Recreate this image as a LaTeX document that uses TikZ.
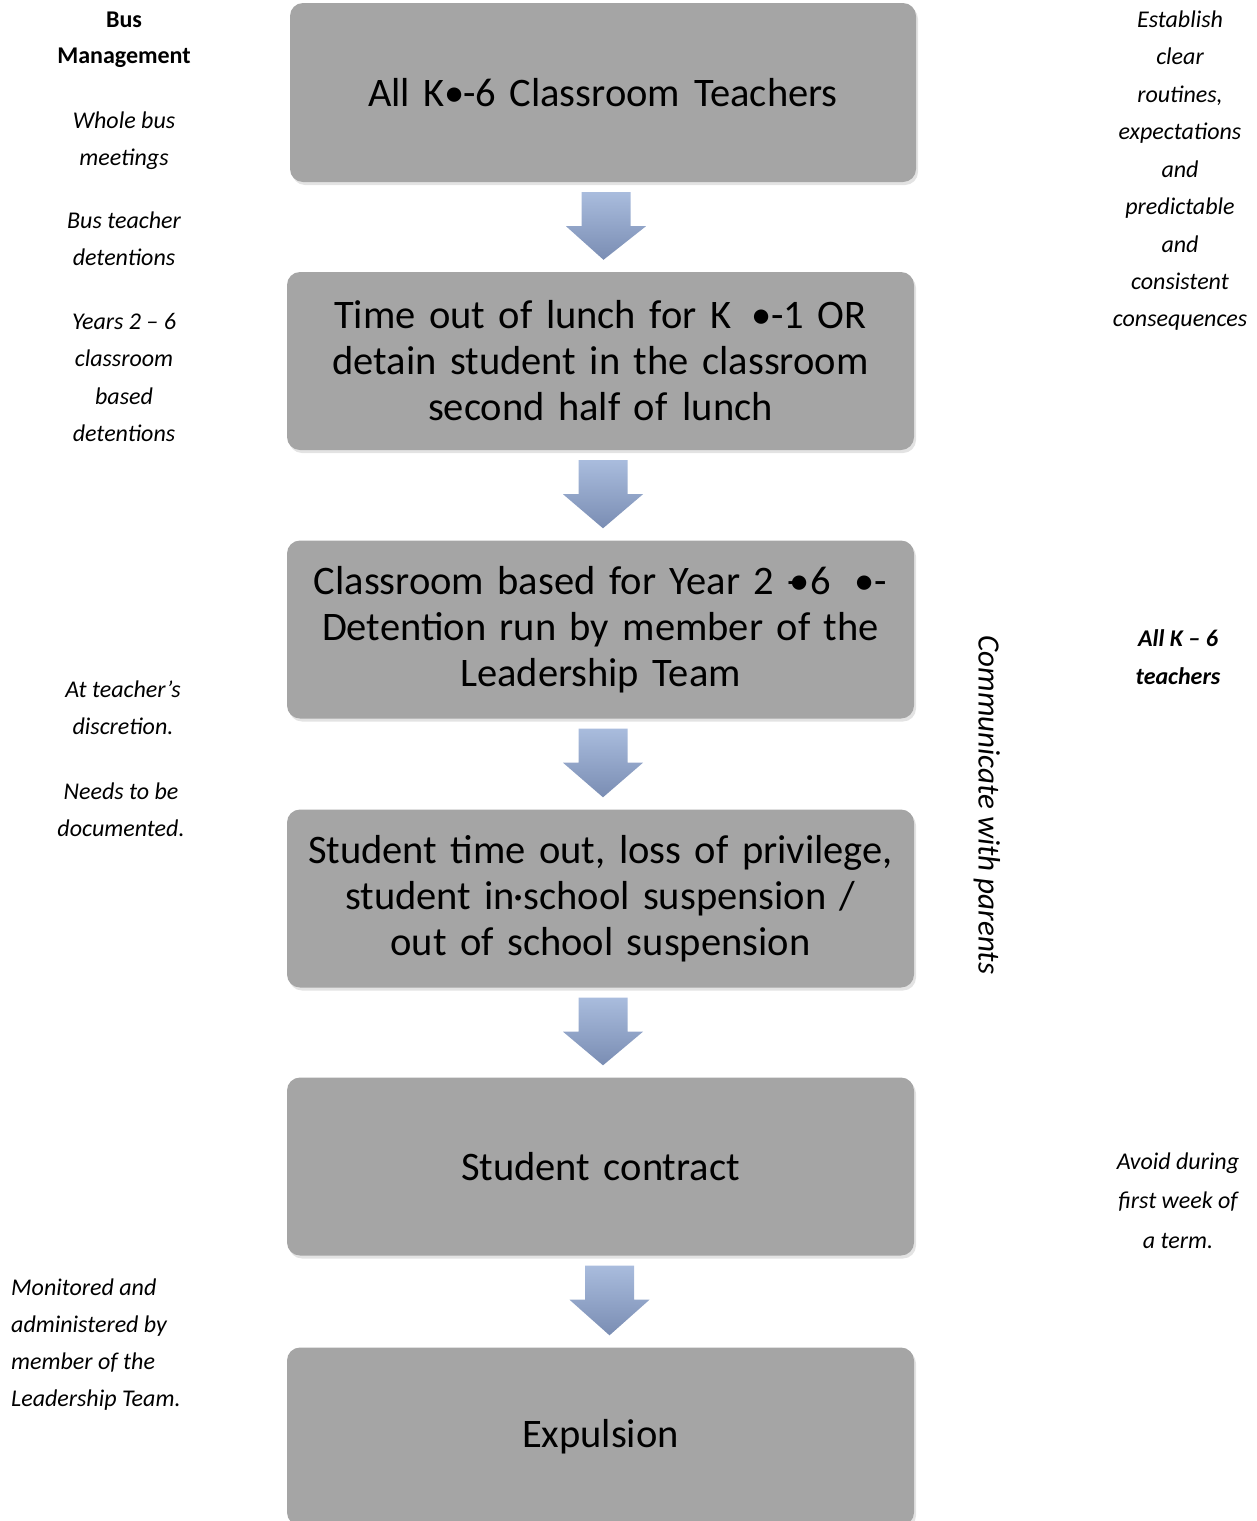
\documentclass[tikz,border=0pt]{standalone}
\usepackage{fontspec}
\setmainfont{Carlito}
\usetikzlibrary{calc,shadows}
\definecolor{boxgray}{HTML}{A5A5A5}
\definecolor{arrtop}{HTML}{A9BCDD}
\definecolor{arrbot}{HTML}{7A8DB3}
\newcommand{\boxtextfont}{\fontsize{40.5}{46}\selectfont}
\newcommand{\sidefont}{\fontsize{24}{37.5}\selectfont}
\tikzset{
  stagebox/.style={rectangle, rounded corners=13pt, fill=boxgray,
    minimum width=627pt, minimum height=178pt, inner sep=0pt,
    text width=610pt, align=center,
    font=\boxtextfont,
    drop shadow={opacity=0.22, shadow xshift=2pt, shadow yshift=-3pt}},
  sidetext/.style={inner sep=0pt, yshift=-5pt, anchor=mid, font=\sidefont\itshape},
  sidebold/.style={inner sep=0pt, yshift=-5pt, anchor=mid, font=\sidefont\bfseries},
  sidebolditalic/.style={inner sep=0pt, yshift=-5pt, anchor=mid, font=\sidefont\bfseries\itshape},
  sideleft/.style={inner sep=0pt, yshift=-5pt, anchor=mid west, font=\sidefont\itshape},
}
\newcommand{\blockarr}[3]{%
  \shade[top color=arrtop, bottom color=arrbot]
    ($(#1.south)+(#3-24.5,10)$) -- ($(#1.south)+(#3+24.5,10)$)
    -- ($(#1.south)+(#3+24.5,44)$) -- ($(#1.south)+(#3+40,44)$)
    -- ($(#2.north)+(#3+0.0,-12)$)
    -- ($(#1.south)+(#3-40,44)$) -- ($(#1.south)+(#3-24.5,44)$) -- cycle;}
\begin{document}
\begin{tikzpicture}[x=1pt,y=-1pt]
\useasboundingbox (0,0) rectangle (1257,1521);
\clip (0,0) rectangle (1257,1521);
% stage boxes
\node[stagebox, minimum width=626pt, minimum height=179pt] (b1) at (603,92.5) {\raisebox{-3pt}{All K\kern-0.02em•\kern-0.02em-6 Classroom\hspace{14pt}Teachers}};
\node[stagebox] (b2) at (600.5,361) {Time out of lunch for K\hspace{20pt}•-1 OR\\ detain student in the classroom\\ second half of\hspace{15pt}lunch};
\node[stagebox] (b3) at (600.5,629.5) {Classroom based for Year 2 -\kern-0.25em•6\hspace{24pt}•-\\ Detention run by member of the\\ Leadership Team};
\node[stagebox] (b4) at (600.5,898.5) {Student time out, loss of privilege,\\ student in\kern-0.05em·school suspension /\\ out of school suspension};
\node[stagebox] (b5) at (600.5,1166.5) {Student contract};
\node[stagebox] (b6) at (600.5,1436.5) {Expulsion};
% block arrows
\blockarr{b1}{b2}{3}
\blockarr{b2}{b3}{2.5}
\blockarr{b3}{b4}{2.5}
\blockarr{b4}{b5}{2.5}
\blockarr{b5}{b6}{9}
% vertical label
\node[rotate=-90, inner sep=0pt, font=\fontsize{31}{36}\selectfont\itshape] (comm) at (987,805) {Communicate with parents};
% left column
\node[sidebold] (l1a) at (124,20) {Bus};
\node[sidebold] (l1b) at (124,56) {Management};
\node[sidetext] (l2a) at (124,121) {Whole bus};
\node[sidetext] (l2b) at (124,158) {meetings};
\node[sidetext] (l3a) at (124,221) {Bus teacher};
\node[sidetext] (l3b) at (124,258) {detentions};
\node[sidetext] (l4a) at (124,322) {Years 2 – 6};
\node[sidetext] (l4b) at (124,359) {classroom};
\node[sidetext] (l4c) at (124,397) {based};
\node[sidetext] (l4d) at (124,434) {detentions};
\node[sidetext] (l5a) at (123,690) {At teacher’s};
\node[sidetext] (l5b) at (123,727) {discretion.};
\node[sidetext] (l6a) at (121,792) {Needs to be};
\node[sidetext] (l6b) at (121,829) {documented.};
\node[sideleft] (l7a) at (11,1288) {Monitored and};
\node[sideleft] (l7b) at (11,1325) {administered by};
\node[sideleft] (l7c) at (11,1362) {member of the};
\node[sideleft] (l7d) at (11,1399) {Leadership Team.};
% right column
\node[sidetext] (r1a) at (1180,20) {Establish};
\node[sidetext] (r1b) at (1180,57) {clear};
\node[sidetext] (r1c) at (1180,95) {routines,};
\node[sidetext] (r1d) at (1180,132) {expectations};
\node[sidetext] (r1e) at (1180,170) {and};
\node[sidetext] (r1f) at (1180,207) {predictable};
\node[sidetext] (r1g) at (1180,245) {and};
\node[sidetext] (r1h) at (1180,282) {consistent};
\node[sidetext] (r1i) at (1180,319) {consequences};
\node[sidebolditalic] (r2a) at (1178,639) {All K – 6};
\node[sidebolditalic] (r2b) at (1178,677) {teachers};
\node[sidetext] (r3a) at (1178,1162) {Avoid during};
\node[sidetext] (r3b) at (1178,1201) {first week of};
\node[sidetext] (r3c) at (1178,1241) {a term.};
\end{tikzpicture}
\end{document}
